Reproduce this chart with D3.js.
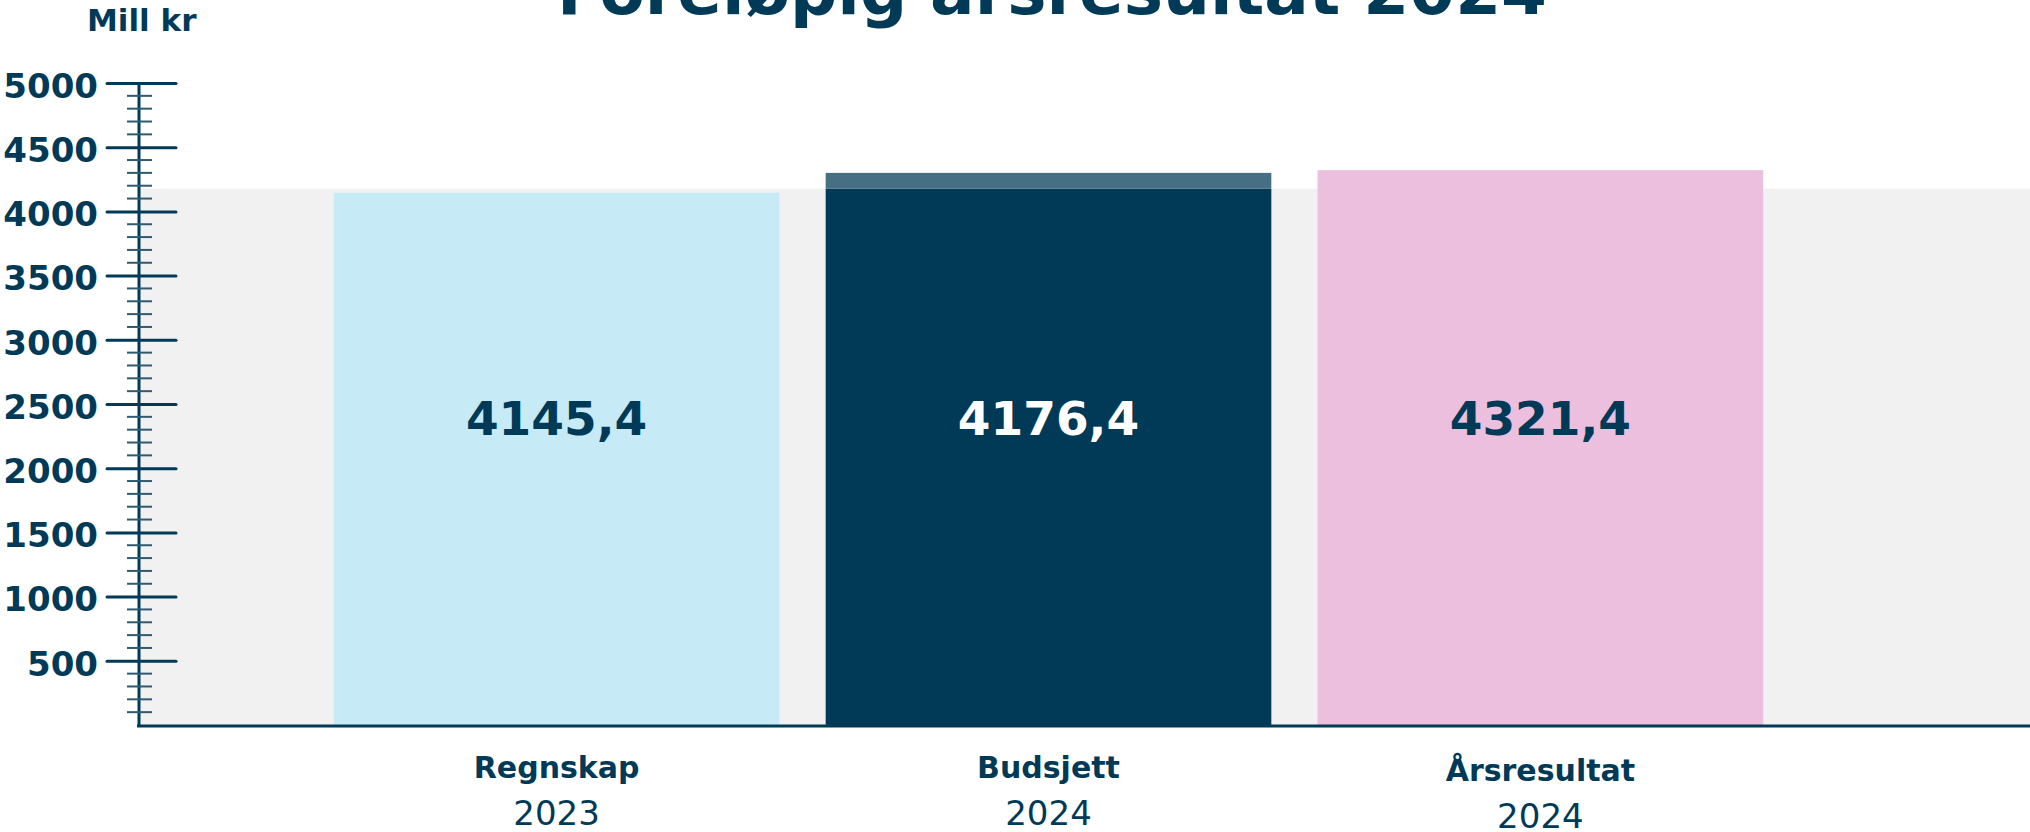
<!DOCTYPE html>
<html>
<head>
<meta charset="utf-8">
<script src="https://cdn.jsdelivr.net/npm/d3@7"></script>
<style>
  body { margin: 0; background: #fff; }
  svg { display: block; font-family: "DejaVu Sans", Verdana, sans-serif; }
</style>
</head>
<body>
<div id="chart"></div>
<script>
// data
const kategorier = ["Regnskap", "Budsjett", "Årsresultat"]
const aar = ["2023", "2024", "2024"]
const verdier = [4145.4, 4176.4, 4321.4]
const verdiTekster = ["4145,4", "4176,4", "4321,4"]
const budsjettTopp = [null, 4300, null]
const hovedTicks = [500, 1000, 1500, 2000, 2500, 3000, 3500, 4000, 4500, 5000]
const smaaTicks = d3.range(100, 5001, 100).filter(function(d) { return d % 500 != 0 })

const farger = ["#c7ebf6", "#003a57", "#ebbfdd"]
const tekstFarger = ["#003a57", "#ffffff", "#003a57"]
const navy = "#003a57"

const width = 2030
const height = 832

const svg = d3.select("#chart")
  .append("svg")
  .attr("width", width)
  .attr("height", height)

var y = d3.scaleLinear()
  .domain([0, 5000])
  .range([725, 83])

var x = d3.scaleBand()
  .domain(kategorier)
  .range([139, 1958])
  .paddingInner(0.094)
  .paddingOuter(0.396)

// grey background up to budget level
svg.append("rect")
  .attr("x", 139)
  .attr("y", y(verdier[1]))
  .attr("width", width - 139)
  .attr("height", y(0) - y(verdier[1]))
  .attr("fill", "#f1f1f1")

// bars
svg.selectAll("rect.bar")
  .data(verdier)
  .enter()
  .append("rect")
  .attr("class", "bar")
  .attr("x", function(d, i) { return x(kategorier[i]) })
  .attr("y", function(d) { return y(d) })
  .attr("width", x.bandwidth())
  .attr("height", function(d) { return y(0) - y(d) })
  .attr("fill", function(d, i) { return farger[i] })

// lighter cap on budget bar
svg.selectAll("rect.cap")
  .data(budsjettTopp.map(function(d, i) { return {v: d, i: i} }).filter(function(d) { return d.v != null }))
  .enter()
  .append("rect")
  .attr("class", "cap")
  .attr("x", function(d) { return x(kategorier[d.i]) })
  .attr("y", function(d) { return y(d.v) })
  .attr("width", x.bandwidth())
  .attr("height", function(d) { return y(verdier[d.i]) - y(d.v) })
  .attr("fill", "#476f83")

// value labels
svg.selectAll("text.verdi")
  .data(verdiTekster)
  .enter()
  .append("text")
  .attr("class", "verdi")
  .attr("x", function(d, i) { return x(kategorier[i]) + x.bandwidth() / 2 })
  .attr("y", 435)
  .attr("text-anchor", "middle")
  .attr("font-size", 47)
  .attr("font-weight", 700)
  .attr("fill", function(d, i) { return tekstFarger[i] })
  .text(function(d) { return d })

// y axis
const yAxis = svg.append("g")
  .attr("transform", "translate(139,0)")
  .call(d3.axisLeft(y).tickValues(hovedTicks).tickFormat(d3.format("d")).tickSize(0).tickPadding(41))

yAxis.select(".domain")
  .attr("d", "M0," + (y(5000) - 1) + "V" + (y(0) + 1))
  .attr("stroke", navy)
  .attr("stroke-width", 3)

yAxis.selectAll(".tick line")
  .attr("x1", -32)
  .attr("x2", 37)
  .attr("stroke", navy)
  .attr("stroke-width", 3)
  .attr("stroke-linecap", "round")

yAxis.selectAll(".tick text")
  .attr("fill", navy)
  .attr("font-size", 34)
  .attr("font-weight", 700)
  .attr("dy", "0.42em")
  .attr("font-family", "'DejaVu Sans', sans-serif")

yAxis.selectAll("line.minor")
  .data(smaaTicks)
  .enter()
  .append("line")
  .attr("class", "minor")
  .attr("x1", -12)
  .attr("x2", 13)
  .attr("y1", function(d) { return y(d) })
  .attr("y2", function(d) { return y(d) })
  .attr("stroke", "#2f5a70")
  .attr("stroke-width", 2)

// x axis baseline
svg.append("line")
  .attr("x1", 137)
  .attr("x2", width)
  .attr("y1", y(0) + 1)
  .attr("y2", y(0) + 1)
  .attr("stroke", navy)
  .attr("stroke-width", 3)

// category labels
const etiketter = svg.selectAll("g.etikett")
  .data(kategorier)
  .enter()
  .append("g")
  .attr("class", "etikett")
  .attr("transform", function(d, i) { return "translate(" + (x(d) + x.bandwidth() / 2) + "," + (i == 2 ? 3 : 0) + ")" })

etiketter.append("text")
  .attr("y", 778)
  .attr("text-anchor", "middle")
  .attr("font-size", 30)
  .attr("font-weight", 700)
  .attr("fill", navy)
  .text(function(d) { return d })

etiketter.append("text")
  .attr("y", 825)
  .attr("text-anchor", "middle")
  .attr("font-size", 34)
  .attr("fill", navy)
  .text(function(d, i) { return aar[i] })

// unit label
svg.append("text")
  .attr("x", 87)
  .attr("y", 31)
  .attr("font-size", 31)
  .attr("font-weight", 700)
  .attr("fill", navy)
  .text("Mill kr")

// title (cut off at top)
svg.append("text")
  .attr("x", 1052)
  .attr("y", 14)
  .attr("text-anchor", "middle")
  .attr("font-size", 66)
  .attr("font-weight", 700)
  .attr("fill", navy)
  .text("Foreløpig årsresultat 2024")
</script>
</body>
</html>
